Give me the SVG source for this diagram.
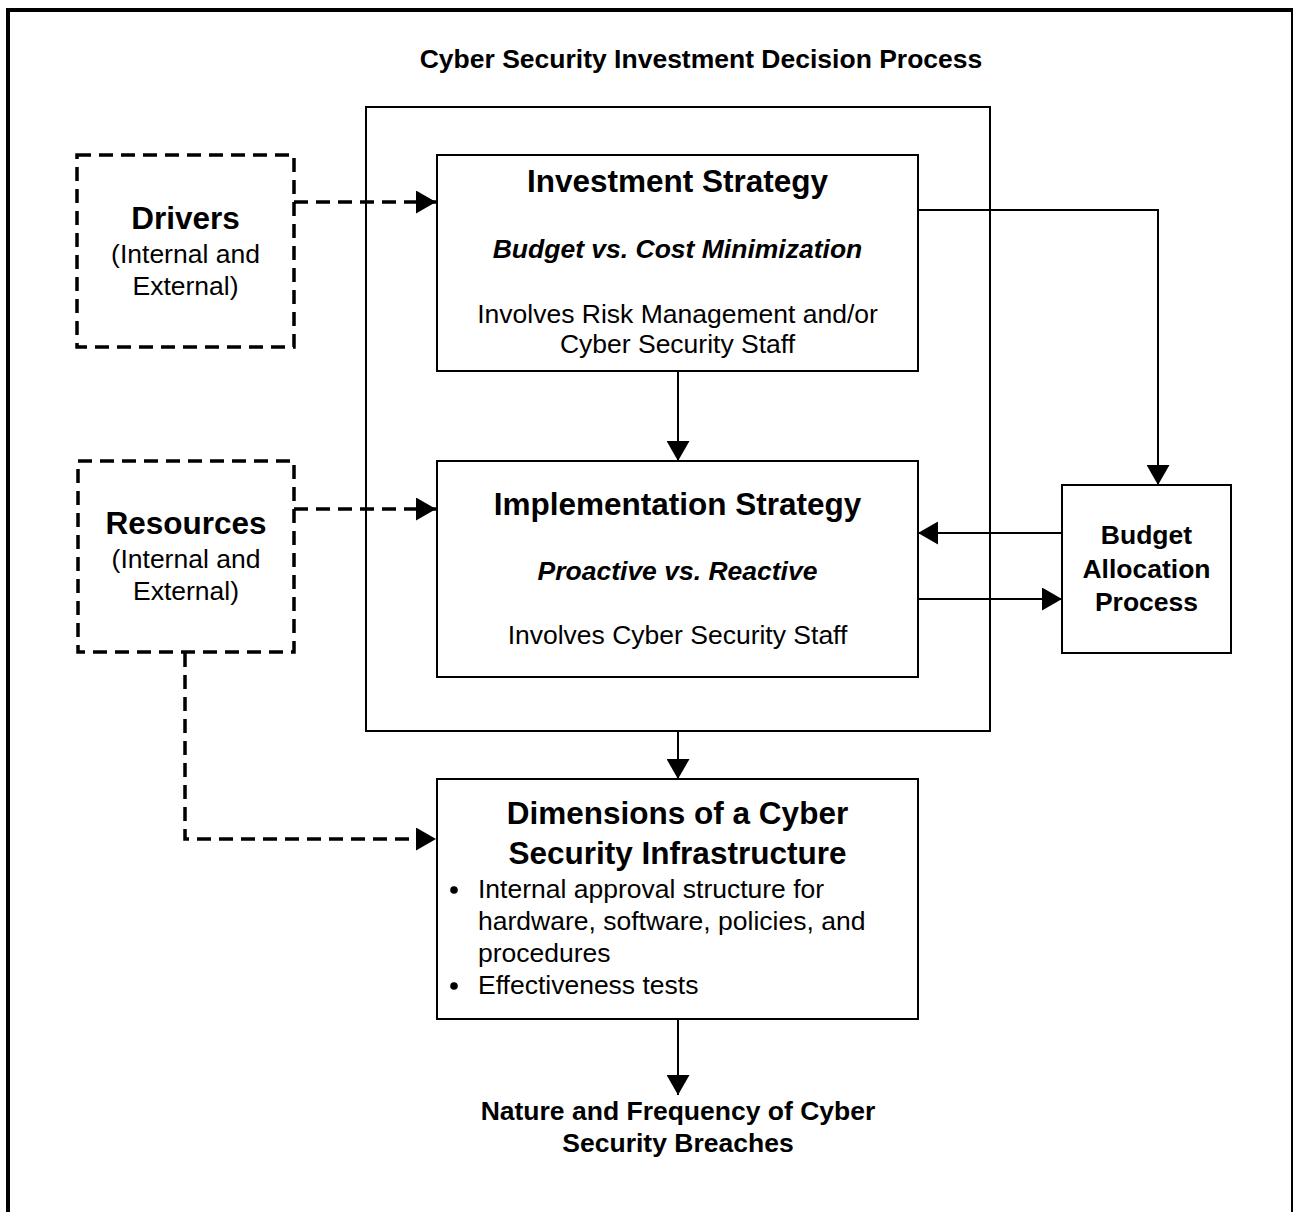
<svg xmlns="http://www.w3.org/2000/svg" width="1294" height="1212" viewBox="0 0 1294 1212">
<style>
  text { font-family: "Liberation Sans", Arial, sans-serif; fill: #000; }
  .box { fill: #fff; stroke: #000; stroke-width: 2; }
  .dbox { fill: #fff; stroke: #000; stroke-width: 3.5; stroke-dasharray: 14 8; }
  .conn { fill: none; stroke: #000; stroke-width: 2; }
  .dconn { fill: none; stroke: #000; stroke-width: 3.5; stroke-dasharray: 14 8; }
  .t { font-size: 31.5px; font-weight: bold; text-anchor: middle; }
  .bi { font-size: 26.5px; font-weight: bold; font-style: italic; text-anchor: middle; }
  .r { font-size: 26.5px; text-anchor: middle; }
  .rl { font-size: 26.5px; }
  .b { font-size: 26.5px; font-weight: bold; text-anchor: middle; }
</style>
<defs>
  <marker id="ah" markerUnits="userSpaceOnUse" markerWidth="21" markerHeight="23" refX="20" refY="11.5" orient="auto">
    <path d="M0,0 L20,11.5 L0,23 z" fill="#000" stroke="none"/>
  </marker>
</defs>
<rect width="1294" height="1212" fill="#fff"/>
<g id="frame" stroke="#000" fill="none">
  <line x1="8" y1="8" x2="8" y2="1212" stroke-width="4"/>
  <line x1="6" y1="10" x2="1293" y2="10" stroke-width="4"/>
  <line x1="1292" y1="8" x2="1292" y2="1212" stroke-width="2"/>
</g>
<text id="title" class="b" x="701" y="68">Cyber Security Investment Decision Process</text>
<g id="process">
  <rect class="box" x="366" y="107" width="624" height="624" fill="none" style="fill:none"/>
</g>
<g id="connectors">
  <path class="dconn" d="M294,202 H436" marker-end="url(#ah)"/>
  <path class="dconn" d="M294,509 H436" marker-end="url(#ah)"/>
  <path class="dconn" d="M185,653 V839 H436" marker-end="url(#ah)"/>
  <path class="conn" d="M678,371 V461" marker-end="url(#ah)"/>
  <path class="conn" d="M918,210 H1158 V485" marker-end="url(#ah)"/>
  <path class="conn" d="M1062,533 H918" marker-end="url(#ah)"/>
  <path class="conn" d="M918,599 H1062" marker-end="url(#ah)"/>
  <path class="conn" d="M678,731 V779" marker-end="url(#ah)"/>
  <path class="conn" d="M678,1019 V1095" marker-end="url(#ah)"/>
</g>
<g id="drivers">
  <rect class="dbox" x="77" y="155" width="217" height="192" style="fill:none"/>
  <text class="t" x="185.5" y="229">Drivers</text>
  <text class="r" x="185.5" y="263">(Internal and</text>
  <text class="r" x="185.5" y="295">External)</text>
</g>
<g id="resources">
  <rect class="dbox" x="78" y="461" width="216" height="191" style="fill:none"/>
  <text class="t" x="186" y="534">Resources</text>
  <text class="r" x="186" y="568">(Internal and</text>
  <text class="r" x="186" y="600">External)</text>
</g>
<g id="investment">
  <rect class="box" x="437" y="155" width="481" height="216"/>
  <text class="t" x="677.5" y="192">Investment Strategy</text>
  <text class="bi" x="677.5" y="258">Budget vs. Cost Minimization</text>
  <text class="r" x="677.5" y="323">Involves Risk Management and/or</text>
  <text class="r" x="677.5" y="353">Cyber Security Staff</text>
</g>
<g id="implementation">
  <rect class="box" x="437" y="461" width="481" height="216"/>
  <text class="t" x="677.5" y="515">Implementation Strategy</text>
  <text class="bi" x="677.5" y="580">Proactive vs. Reactive</text>
  <text class="r" x="677.5" y="644">Involves Cyber Security Staff</text>
</g>
<g id="budget">
  <rect class="box" x="1062" y="485" width="169" height="168"/>
  <text class="b" x="1146.5" y="544">Budget</text>
  <text class="b" x="1146.5" y="578">Allocation</text>
  <text class="b" x="1146.5" y="611">Process</text>
</g>
<g id="dimensions">
  <rect class="box" x="437" y="779" width="481" height="240"/>
  <text class="t" x="677.5" y="824">Dimensions of a Cyber</text>
  <text class="t" x="677.5" y="864">Security Infrastructure</text>
  <circle cx="454" cy="890" r="3.8" fill="#000"/>
  <text class="rl" x="478" y="898">Internal approval structure for</text>
  <text class="rl" x="478" y="930">hardware, software, policies, and</text>
  <text class="rl" x="478" y="962">procedures</text>
  <circle cx="454" cy="986" r="3.8" fill="#000"/>
  <text class="rl" x="478" y="994">Effectiveness tests</text>
</g>
<g id="outcome">
  <text class="b" x="678" y="1120">Nature and Frequency of Cyber</text>
  <text class="b" x="678" y="1152">Security Breaches</text>
</g>
</svg>
